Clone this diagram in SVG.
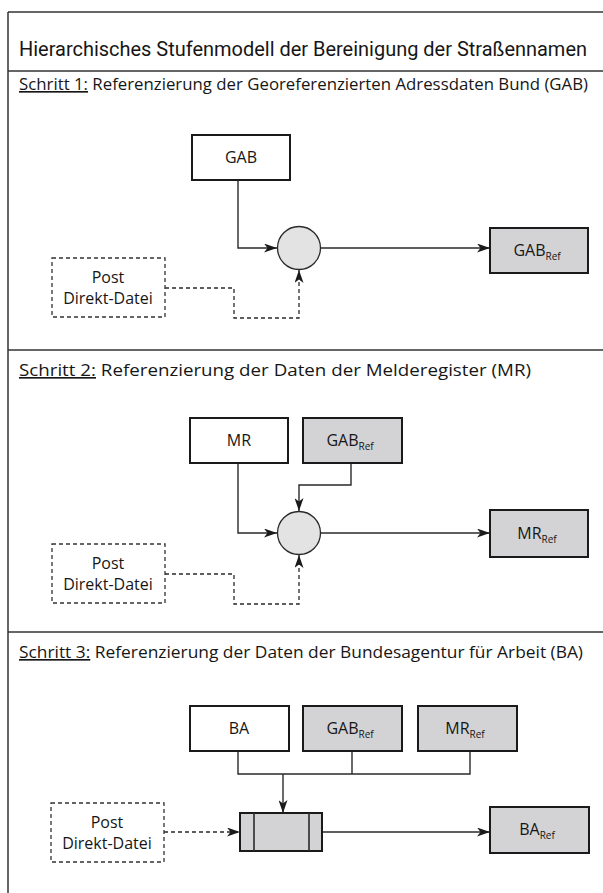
<svg xmlns="http://www.w3.org/2000/svg" width="603" height="893" viewBox="0 0 603 893">
<defs>
<marker id="arr" viewBox="0 0 13 9" refX="13" refY="4.5" markerWidth="13" markerHeight="9" markerUnits="userSpaceOnUse" orient="auto">
<path d="M0,0 L13,4.5 L0,9 L3.5,4.5 z" fill="#1a1a1a"/>
</marker>
<style>
text{font-family:"Open Sans","Liberation Sans",sans-serif;fill:#161616}
.sep{stroke:#333;stroke-width:1.5}
.head{font-size:16.5px}
.title{font-size:20px;font-family:Roboto,"Open Sans",sans-serif}
.box{fill:#fff;stroke:#1a1a1a;stroke-width:2}
.grey{fill:#d3d3d5;stroke:#1a1a1a;stroke-width:2}
.dash{fill:#fff;stroke:#333;stroke-width:1.3;stroke-dasharray:4,3}
.lbl{font-size:16px;text-anchor:middle}
.sub{font-size:10px}
.ln{fill:none;stroke:#2a2a2a;stroke-width:1.4}
.dl{fill:none;stroke:#2a2a2a;stroke-width:1.3;stroke-dasharray:4,3}
.circ{fill:#e3e3e4;stroke:#2a2a2a;stroke-width:1.3}
</style>
</defs>
<g id="frame">
<line class="sep" x1="8" y1="12" x2="603" y2="12"/>
<line class="sep" x1="8" y1="12" x2="8" y2="893"/>
<line class="sep" x1="8" y1="71" x2="603" y2="71"/>
<line class="sep" x1="8" y1="350" x2="603" y2="350"/>
<line class="sep" x1="8" y1="632" x2="603" y2="632"/>
</g>
<text class="title" x="19" y="56" textLength="568" lengthAdjust="spacingAndGlyphs">Hierarchisches Stufenmodell der Bereinigung der Straßennamen</text>
<text class="head" x="19" y="90" textLength="569" lengthAdjust="spacingAndGlyphs"><tspan text-decoration="underline">Schritt 1:</tspan> Referenzierung der Georeferenzierten Adressdaten Bund (GAB)</text>
<text class="head" x="19" y="376" textLength="512" lengthAdjust="spacingAndGlyphs"><tspan text-decoration="underline">Schritt 2:</tspan> Referenzierung der Daten der Melderegister (MR)</text>
<text class="head" x="19" y="658" textLength="564" lengthAdjust="spacingAndGlyphs"><tspan text-decoration="underline">Schritt 3:</tspan> Referenzierung der Daten der Bundesagentur für Arbeit (BA)</text>

<g id="connectors">
<path class="ln" d="M238,181 V248 H277" marker-end="url(#arr)"/>
<path class="ln" d="M321,248 H490" marker-end="url(#arr)"/>
<path class="dl" d="M165,288 H234 V318 H299 V270" marker-end="url(#arr)"/>

<path class="ln" d="M238,463 V533 H277" marker-end="url(#arr)"/>
<path class="ln" d="M351,463 V485 H299 V511" marker-end="url(#arr)"/>
<path class="ln" d="M321,533 H490" marker-end="url(#arr)"/>
<path class="dl" d="M165,574 H234 V604 H299 V555" marker-end="url(#arr)"/>

<path class="ln" d="M238,751 V774 H470 V751 M352,751 V774"/>
<path class="ln" d="M283,774 V813" marker-end="url(#arr)"/>
<path class="ln" d="M322,832 H490" marker-end="url(#arr)"/>
<path class="dl" d="M164,832 H240" marker-end="url(#arr)"/>
</g>

<g id="s1-gab"><rect class="box" x="192" y="135" width="98" height="45"/><text class="lbl" x="241" y="163">GAB</text></g>
<g id="s1-join"><circle class="circ" cx="299" cy="248" r="21.5"/></g>
<g id="s1-gabref"><rect class="grey" x="490" y="228" width="98" height="45"/><text class="lbl" x="537" y="256">GAB<tspan class="sub" dy="4">Ref</tspan></text></g>
<g id="s1-post"><rect class="dash" x="52" y="258" width="113" height="59"/><text class="lbl" x="108" y="283">Post</text><text class="lbl" x="108" y="304">Direkt-Datei</text></g>

<g id="s2-mr"><rect class="box" x="190" y="418" width="98" height="45"/><text class="lbl" x="239" y="446">MR</text></g>
<g id="s2-gabref"><rect class="grey" x="303" y="418" width="99" height="45"/><text class="lbl" x="350" y="446">GAB<tspan class="sub" dy="4">Ref</tspan></text></g>
<g id="s2-join"><circle class="circ" cx="299" cy="533" r="21.5"/></g>
<g id="s2-mrref"><rect class="grey" x="490" y="510" width="98" height="47"/><text class="lbl" x="537" y="539">MR<tspan class="sub" dy="4">Ref</tspan></text></g>
<g id="s2-post"><rect class="dash" x="52" y="544" width="113" height="59"/><text class="lbl" x="108" y="569">Post</text><text class="lbl" x="108" y="590">Direkt-Datei</text></g>

<g id="s3-ba"><rect class="box" x="190" y="706" width="99" height="45"/><text class="lbl" x="239" y="734">BA</text></g>
<g id="s3-gabref"><rect class="grey" x="303" y="706" width="99" height="45"/><text class="lbl" x="350" y="734">GAB<tspan class="sub" dy="4">Ref</tspan></text></g>
<g id="s3-mrref"><rect class="grey" x="418" y="706" width="99" height="45"/><text class="lbl" x="465" y="734">MR<tspan class="sub" dy="4">Ref</tspan></text></g>
<g id="s3-proc"><rect class="grey" x="240" y="813" width="82" height="38"/><line class="ln" x1="254" y1="813" x2="254" y2="851" style="stroke-width:1.6"/><line class="ln" x1="309" y1="813" x2="309" y2="851" style="stroke-width:1.6"/></g>
<g id="s3-baref"><rect class="grey" x="490" y="807" width="99" height="46"/><text class="lbl" x="537" y="835">BA<tspan class="sub" dy="4">Ref</tspan></text></g>
<g id="s3-post"><rect class="dash" x="51" y="803" width="113" height="59"/><text class="lbl" x="107" y="828">Post</text><text class="lbl" x="107" y="849">Direkt-Datei</text></g>
</svg>
